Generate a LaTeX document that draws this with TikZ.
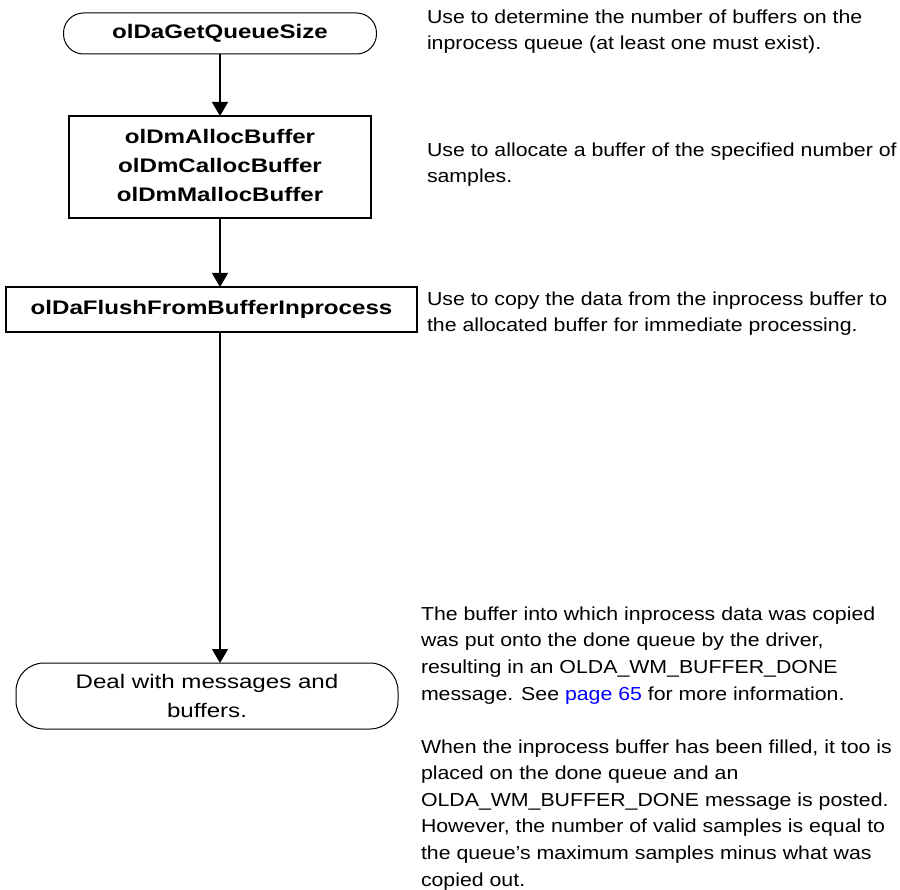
\documentclass[tikz,border=0pt]{standalone}
\usepackage{fontspec}
\setmainfont{Liberation Sans}
% wide-set faces for the chart and for the notes
\newfontfamily\chartfont[FakeStretch=1.23]{Liberation Sans}
\newfontfamily\notefont[FakeStretch=1.133]{Liberation Sans}
\usetikzlibrary{arrows.meta}
\definecolor{linkblue}{RGB}{0,0,255}
\begin{document}
\begin{tikzpicture}[x=1pt,y=-1pt,
  every node/.style={inner sep=0pt, outer sep=0pt},
  terminal/.style={draw, line width=1pt, rounded corners=#1, align=center},
  procbox/.style={draw, line width=1.5pt, align=center,
    font=\chartfont\fontsize{19.6}{29}\selectfont\bfseries},
  note/.style={anchor=base west, align=left,
    font=\notefont\fontsize{18.8}{26.6}\selectfont},
  flow/.style={line width=1.4pt, -{Triangle[width=16pt,length=14pt]}}
]
\useasboundingbox (0,0) rectangle (900,890);

% flow chart boxes
\node[terminal=20, minimum width=313, minimum height=41,
      font=\chartfont\fontsize{19.6}{29}\selectfont\bfseries] (getq) at (220,33.5) {olDaGetQueueSize};
\node[procbox, minimum width=302, minimum height=102, text depth=4pt] (alloc) at (220,167)
  {olDmAllocBuffer\\olDmCallocBuffer\\olDmMallocBuffer};
\node[procbox, minimum width=411, minimum height=45] (flush) at (211.5,309.5)
  {olDaFlushFromBufferInprocess};
\node[terminal=28, minimum width=382, minimum height=66,
      font=\chartfont\fontsize{19.6}{29}\selectfont] (deal) at (207,696)
  {Deal with messages and\\buffers.};

% connectors
\draw[flow] (getq.south) -- (alloc.north);
\draw[flow] (alloc.south) -- (alloc.south |- flush.north);
\draw[flow] (alloc.south |- flush.south) -- (alloc.south |- deal.north);

% explanatory notes (each placed by the baseline of its last line)
\node[note] (n1) at (427,50) {Use to determine the number of buffers on the\\inprocess queue (at least one must exist).};
\node[note] (n2) at (427,183) {Use to allocate a buffer of the specified number of\\samples.};
\node[note] (n3) at (427,332) {Use to copy the data from the inprocess buffer to\\the allocated buffer for immediate processing.};
\node[note] (n4) at (421,700) {The buffer into which inprocess data was copied\\was put onto the done queue by the driver,\\resulting in an OLDA\_WM\_BUFFER\_DONE\\message. See \textcolor{linkblue}{page 65} for more information.};
\node[note] (n5) at (421,886) {When the inprocess buffer has been filled, it too is\\placed on the done queue and an\\OLDA\_WM\_BUFFER\_DONE message is posted.\\However, the number of valid samples is equal to\\the queue’s maximum samples minus what was\\copied out.};
\end{tikzpicture}
\end{document}
